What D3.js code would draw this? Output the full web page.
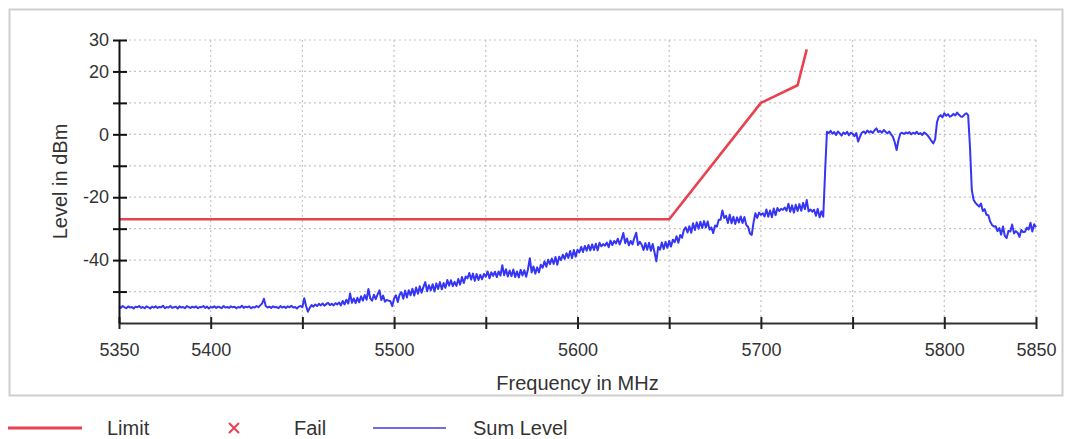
<!DOCTYPE html>
<html>
<head>
<meta charset="utf-8">
<script src="https://cdn.jsdelivr.net/npm/d3@7"></script>
<style>
  html, body { margin: 0; padding: 0; background: #fff; }
  svg { display: block; font-family: "Liberation Sans", Arial, sans-serif; }
</style>
</head>
<body>
<svg id="chart" width="1072" height="439"></svg>
<script>
// ---------------- data ----------------
const freqStart = 5350;   // MHz, first sample
const freqStep = 1;       // MHz between samples

// Sum Level trace (dBm), one value per MHz from 5350 to 5850
const sumLevel = [
  -54.8,-55.2,-54.6,-55.0,-55.3,-54.7,-55.1,-54.9,-55.4,-54.8,
  -55.0,-54.6,-55.2,-54.9,-55.3,-54.7,-55.0,-55.4,-54.8,-55.1,
  -54.7,-55.2,-54.9,-55.0,-54.5,-55.3,-54.9,-55.1,-54.6,-55.2,
  -55.0,-54.8,-55.4,-54.7,-55.1,-54.9,-55.3,-54.6,-55.0,-55.2,
  -54.8,-55.1,-54.7,-55.3,-54.9,-55.0,-54.6,-55.2,-54.8,-55.4,
  -54.9,-55.1,-54.7,-55.2,-54.8,-55.0,-55.3,-54.6,-55.1,-54.9,
  -55.2,-54.7,-55.0,-54.8,-55.3,-54.9,-55.1,-54.5,-55.2,-54.8,
  -55.0,-54.7,-55.3,-54.9,-55.1,-54.6,-55.0,-54.4,-53.8,-52.3,
  -54.6,-55.1,-54.8,-55.2,-54.7,-55.0,-54.9,-55.3,-54.6,-55.1,
  -54.8,-55.2,-54.7,-55.0,-54.5,-55.1,-54.9,-55.4,-54.8,-54.6,
  -55.0,-52.1,-54.6,-56.4,-55.2,-54.3,-54.8,-54.1,-54.6,-53.9,
  -54.4,-53.8,-54.5,-54.0,-53.6,-54.3,-53.9,-54.4,-53.7,-54.1,
  -53.5,-54.4,-53.0,-54.1,-52.6,-53.8,-50.6,-53.6,-52.2,-53.7,
  -52.0,-53.4,-51.5,-52.9,-51.1,-52.6,-49.2,-52.2,-52.9,-51.0,
  -52.4,-50.9,-49.6,-52.7,-51.3,-53.2,-52.7,-52.9,-53.1,-54.6,
  -52.2,-51.2,-53.3,-51.0,-50.2,-52.3,-49.7,-51.9,-49.6,-51.2,
  -49.1,-51.3,-48.7,-50.7,-48.3,-50.4,-48.5,-47.0,-49.9,-48.0,
  -49.6,-47.7,-50.0,-47.4,-49.2,-47.0,-49.3,-47.3,-48.8,-46.3,
  -48.1,-46.4,-48.3,-46.9,-48.2,-46.0,-47.8,-45.4,-47.3,-45.2,
  -45.8,-44.1,-46.2,-44.3,-46.6,-44.4,-46.3,-44.7,-46.1,-44.4,
  -45.3,-43.6,-45.8,-43.9,-45.0,-43.7,-45.4,-43.6,-44.9,-41.6,
  -44.8,-42.9,-45.2,-43.3,-45.1,-43.0,-45.4,-43.6,-45.5,-43.1,
  -44.9,-43.2,-45.3,-42.9,-39.4,-43.9,-42.0,-44.3,-42.3,-43.9,
  -41.5,-42.4,-40.4,-42.1,-39.9,-41.3,-39.5,-41.2,-39.0,-41.5,
  -38.9,-40.0,-38.3,-39.6,-37.8,-39.3,-37.1,-39.4,-36.8,-38.9,
  -36.7,-37.6,-35.8,-37.4,-35.5,-37.0,-35.2,-36.9,-35.0,-36.8,
  -34.8,-36.9,-34.5,-35.6,-34.9,-35.4,-34.4,-35.9,-33.8,-35.2,
  -33.9,-34.7,-33.2,-35.0,-33.4,-31.4,-34.6,-33.1,-35.3,-33.9,
  -35.0,-32.9,-31.3,-35.2,-34.2,-35.1,-36.8,-34.6,-36.7,-34.5,
  -37.0,-34.9,-37.6,-40.4,-35.8,-36.7,-34.4,-36.5,-34.2,-36.1,
  -33.9,-35.7,-33.5,-34.3,-32.4,-34.5,-32.0,-32.9,-30.4,-29.6,
  -31.2,-29.2,-31.3,-28.3,-30.4,-28.0,-30.0,-27.8,-29.8,-27.6,
  -29.6,-27.7,-30.3,-29.6,-31.4,-29.0,-29.4,-27.2,-27.2,-24.2,
  -26.6,-25.9,-28.2,-25.6,-28.3,-26.2,-28.5,-26.4,-28.0,-26.1,
  -28.2,-26.3,-28.8,-29.4,-31.5,-32.0,-28.0,-25.1,-26.6,-24.9,
  -25.6,-25.1,-26.1,-23.9,-26.2,-24.2,-26.4,-23.6,-25.7,-23.4,
  -24.4,-23.7,-24.0,-23.3,-24.3,-22.1,-24.6,-22.6,-24.9,-22.4,
  -24.4,-22.2,-24.3,-21.8,-23.8,-20.9,-24.5,-23.9,-24.6,-24.0,
  -25.9,-23.7,-26.4,-24.5,-26.2,-12.0,0.8,0.4,1.1,0.2,
  0.7,-0.2,0.9,0.3,-0.4,0.6,0.1,0.8,-0.3,0.5,
  0.2,-0.6,0.4,-2.3,-0.8,0.5,0.9,0.3,1.2,0.6,
  1.0,0.4,1.3,1.9,0.7,1.1,0.5,1.4,0.8,0.3,
  0.9,0.0,-0.8,-2.6,-5.0,-1.9,0.2,0.5,0.1,0.6,
  0.3,0.7,0.0,0.5,0.2,0.8,0.1,0.4,-0.2,0.6,
  0.2,-0.4,-1.2,-2.1,-2.9,-1.6,3.8,5.6,6.1,5.4,
  6.7,5.9,6.4,5.6,5.9,6.5,6.0,6.9,6.2,5.7,
  5.6,6.3,6.7,6.1,-4.0,-17.7,-20.9,-21.8,-22.4,-23.0,
  -22.0,-24.4,-23.8,-25.6,-25.7,-27.7,-28.8,-29.3,-29.2,-30.8,
  -29.8,-31.9,-29.3,-32.3,-33.0,-30.7,-30.9,-28.7,-31.5,-30.8,
  -31.3,-32.6,-30.4,-31.1,-31.0,-29.7,-30.3,-28.1,-30.9,-28.6,
  -29.5
];

// Limit line
const limitFreq  = [5350, 5650, 5700, 5720, 5725];
const limitLevel = [-27, -27, 10, 15.6, 27];

// Axes
const xDomain = [5350, 5850];
const yDomain = [-60, 30];
const xTickValues = [5350, 5400, 5450, 5500, 5550, 5600, 5650, 5700, 5750, 5800, 5850];
const xTickLabels = ["5350", "5400", "", "5500", "", "5600", "", "5700", "", "5800", "5850"];
const yTickValues = [30, 20, 10, 0, -10, -20, -30, -40, -50];
const yTickLabels = ["30", "20", "", "0", "", "-20", "", "-40", ""];

const xTitle = "Frequency in MHz";
const yTitle = "Level in dBm";
const legendNames = ["Limit", "Fail", "Sum Level"];

// ---------------- drawing ----------------
const svg = d3.select("#chart");
const pLeft = 119, pRight = 1036, pTop = 40, pBottom = 323;

const x = d3.scaleLinear().domain(xDomain).range([pLeft, pRight]);
const y = d3.scaleLinear().domain(yDomain).range([pBottom, pTop]);

// outer frame
svg.append("rect")
  .attr("x", 9.5).attr("y", 9.5).attr("width", 1053).attr("height", 386)
  .attr("fill", "#fff").attr("stroke", "#cfcfcf").attr("stroke-width", 2);

// grid
const grid = svg.append("g");
grid.selectAll("line.h").data(yTickValues).join("line")
  .attr("x1", pLeft).attr("x2", pRight)
  .attr("y1", d => y(d)).attr("y2", d => y(d))
  .attr("stroke", "#c4c4c4").attr("stroke-width", 1.2).attr("stroke-dasharray", "2,3");
grid.selectAll("line.v").data(xTickValues.slice(1)).join("line")
  .attr("y1", pTop).attr("y2", pBottom)
  .attr("x1", d => x(d)).attr("x2", d => x(d))
  .attr("stroke", "#c4c4c4").attr("stroke-width", 1.2).attr("stroke-dasharray", "2,3");

// limit line
const limitData = limitFreq.map((f, i) => [f, limitLevel[i]]);
svg.append("path")
  .datum(limitData)
  .attr("fill", "none").attr("stroke", "#e8414f").attr("stroke-width", 2.6)
  .attr("stroke-linejoin", "round")
  .attr("d", d3.line().x(d => x(d[0])).y(d => y(d[1])));

// sum level trace
const traceData = sumLevel.map((v, i) => [freqStart + i * freqStep, v]);
svg.append("path")
  .datum(traceData)
  .attr("fill", "none").attr("stroke", "#3535f3").attr("stroke-width", 2)
  .attr("stroke-linejoin", "round")
  .attr("d", d3.line().x(d => x(d[0])).y(d => y(d[1])));

// x axis
const xAxis = svg.append("g")
  .attr("transform", `translate(0,${pBottom})`)
  .call(d3.axisBottom(x).tickValues(xTickValues).tickFormat((d, i) => xTickLabels[i]).tickSizeOuter(0));
xAxis.select(".domain").attr("stroke", "#333").attr("stroke-width", 2);
xAxis.selectAll(".tick line").attr("y1", -6).attr("y2", 6).attr("stroke", "#222").attr("stroke-width", 2);
xAxis.selectAll(".tick text").attr("y", 20).attr("dy", "0.71em")
  .attr("font-size", 18).attr("fill", "#333").attr("font-family", "Liberation Sans, Arial, sans-serif");

// y axis
const yAxis = svg.append("g")
  .attr("transform", `translate(${pLeft},0)`)
  .call(d3.axisLeft(y).tickValues(yTickValues).tickFormat((d, i) => yTickLabels[i]).tickSizeOuter(0));
yAxis.select(".domain").attr("stroke", "#111").attr("stroke-width", 2);
yAxis.selectAll(".tick line").attr("x1", -6).attr("x2", 8).attr("stroke", "#111").attr("stroke-width", 2);
yAxis.selectAll(".tick text").attr("x", -10)
  .attr("font-size", 18).attr("fill", "#333").attr("font-family", "Liberation Sans, Arial, sans-serif");

// titles
svg.append("text")
  .attr("x", (pLeft + pRight) / 2).attr("y", 390)
  .attr("text-anchor", "middle").attr("font-size", 20).attr("fill", "#333")
  .text(xTitle);
svg.append("text")
  .attr("transform", `translate(67,${(pTop + pBottom) / 2}) rotate(-90)`)
  .attr("text-anchor", "middle").attr("font-size", 20).attr("fill", "#333")
  .text(yTitle);

// legend
const lg = svg.append("g").attr("font-size", 20).attr("fill", "#333");
lg.append("line").attr("x1", 8).attr("x2", 82).attr("y1", 428).attr("y2", 428)
  .attr("stroke", "#e8414f").attr("stroke-width", 3);
lg.append("text").attr("x", 107).attr("y", 435).text(legendNames[0]);
lg.append("path").attr("d", "M229,423 L239,433 M239,423 L229,433")
  .attr("stroke", "#e8414f").attr("stroke-width", 2).attr("fill", "none");
lg.append("text").attr("x", 294).attr("y", 435).text(legendNames[1]);
lg.append("line").attr("x1", 373).attr("x2", 446).attr("y1", 428).attr("y2", 428)
  .attr("stroke", "#6c6cf0").attr("stroke-width", 2);
lg.append("text").attr("x", 473).attr("y", 435).text(legendNames[2]);
</script>
</body>
</html>
